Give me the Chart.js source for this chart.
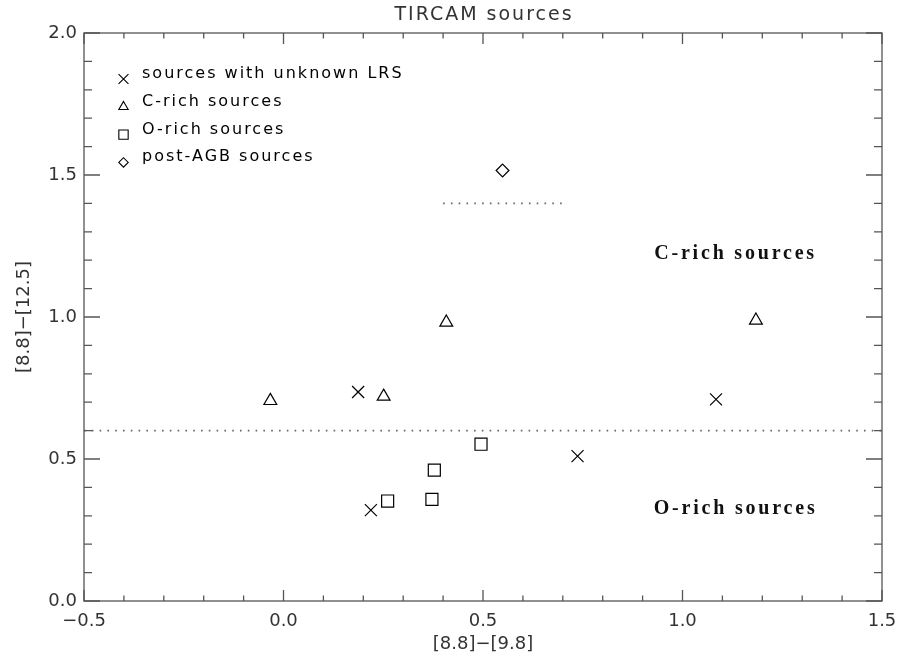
<!DOCTYPE html>
<html>
<head>
<meta charset="utf-8">
<script src="https://cdn.jsdelivr.net/npm/chart.js@4.4.0/dist/chart.umd.min.js"></script>
<style>
html, body { margin: 0; padding: 0; background: #fff; }
#wrap { width: 898px; height: 663px; }
</style>
</head>
<body>
<div id="wrap"><canvas id="tircam"></canvas></div>
<script>
// colours: [8.8]-[9.8] (x) against [8.8]-[12.5] (y)
var unknownX = [0.219, 0.187, 0.737, 1.084];
var unknownY = [0.320, 0.736, 0.510, 0.710];
var cRichX = [-0.033, 0.251, 0.408, 1.184];
var cRichY = [0.705, 0.720, 0.981, 0.988];
var oRichX = [0.261, 0.378, 0.372, 0.495];
var oRichY = [0.352, 0.461, 0.358, 0.552];
var postAgbX = [0.549];
var postAgbY = [1.516];

// dotted dividing lines
var splitX = [-0.5, 1.5];
var splitY = [0.6, 0.6];
var agbX = [0.4, 0.7];
var agbY = [1.4, 1.4];

// region names, placed in data units
var regionNames = ['C-rich sources', 'O-rich sources'];
var regionX = [1.133, 1.133];
var regionY = [1.222, 0.323];

var xMajor = [-0.5, 0.0, 0.5, 1.0, 1.5];
var yMajor = [0.0, 0.5, 1.0, 1.5, 2.0];

function zip(xs, ys) {
    return xs.map(function (v, i) { return {x: v, y: ys[i]}; });
}
function isMajor(v, list) {
    return list.some(function (m) { return Math.abs(m - v) < 1e-6; });
}
function fmt(v) {
    return (v < -1e-9 ? '\u2212' : '') + Math.abs(v).toFixed(1);
}

var ink = '#000';
var axisCol = '#555';
var textCol = '#333';
var sans = 'DejaVu Sans';

function markerSet(label, xs, ys, style, r, lr) {
    return {
        label: label,
        data: zip(xs, ys),
        pointStyle: style,
        pointRadius: r,
        legendRadius: lr,
        pointBorderColor: ink,
        pointBackgroundColor: 'rgba(0,0,0,0)',
        pointBorderWidth: 1.2,
        showLine: false
    };
}
function dottedSet(xs, ys) {
    return {
        type: 'line',
        data: zip(xs, ys),
        showLine: true,
        borderColor: '#666',
        borderWidth: 1.6,
        borderDash: [1.6, 6.2],
        pointRadius: 0,
        fill: false,
        noLegend: true
    };
}

var idlFrame = {
    id: 'idlFrame',
    beforeDraw: function (chart) {
        var ctx = chart.ctx;
        ctx.save();
        ctx.fillStyle = '#fff';
        ctx.fillRect(0, 0, chart.width, chart.height);
        ctx.restore();
    },
    afterDraw: function (chart) {
        var ctx = chart.ctx, a = chart.chartArea;
        var sx = chart.scales.x, sy = chart.scales.y;
        ctx.save();

        // box and inward ticks on all four sides
        ctx.strokeStyle = axisCol;
        ctx.lineWidth = 1.3;
        ctx.strokeRect(a.left, a.top, a.right - a.left, a.bottom - a.top);
        ctx.beginPath();
        sx.ticks.forEach(function (t) {
            var px = sx.getPixelForValue(t.value);
            var len = isMajor(t.value, xMajor) ? 11 : 5.5;
            ctx.moveTo(px, a.bottom); ctx.lineTo(px, a.bottom - len);
            ctx.moveTo(px, a.top); ctx.lineTo(px, a.top + len);
        });
        sy.ticks.forEach(function (t) {
            var py = sy.getPixelForValue(t.value);
            var len = isMajor(t.value, yMajor) ? 16 : 8;
            ctx.moveTo(a.left, py); ctx.lineTo(a.left + len, py);
            ctx.moveTo(a.right, py); ctx.lineTo(a.right - len, py);
        });
        ctx.stroke();

        // title
        ctx.fillStyle = textCol;
        ctx.font = '19px "' + sans + '"';
        ctx.letterSpacing = '2px';
        ctx.textAlign = 'center';
        ctx.textBaseline = 'middle';
        ctx.fillText('TIRCAM sources', (a.left + a.right) / 2 + 1, 15);

        // legend
        ctx.font = '16px "' + sans + '"';
        ctx.textAlign = 'left';
        ctx.textBaseline = 'alphabetic';
        var row = 0;
        chart.data.datasets.forEach(function (ds) {
            if (ds.noLegend) return;
            var base = 78 + row * 27.8;
            ctx.fillStyle = ink;
            ctx.fillText(ds.label, 142, base);
            ctx.strokeStyle = ink;
            ctx.fillStyle = 'rgba(0,0,0,0)';
            ctx.lineWidth = 1.1;
            Chart.helpers.drawPoint(ctx, {
                pointStyle: ds.pointStyle, rotation: 0,
                radius: ds.legendRadius, borderWidth: 1.1
            }, 123.5, base + 1);
            row++;
        });

        // region names
        ctx.fillStyle = '#111';
        ctx.font = 'bold 20px "Liberation Serif"';
        ctx.letterSpacing = '2.8px';
        ctx.textAlign = 'center';
        ctx.textBaseline = 'middle';
        regionNames.forEach(function (name, i) {
            ctx.fillText(name, sx.getPixelForValue(regionX[i]), sy.getPixelForValue(regionY[i]));
        });
        ctx.restore();
    }
};

new Chart(document.getElementById('tircam'), {
    type: 'scatter',
    data: {
        datasets: [
            markerSet('sources with unknown LRS', unknownX, unknownY, 'crossRot', 8.5, 7),
            markerSet('C-rich sources', cRichX, cRichY, 'triangle', 7.4, 5.4),
            markerSet('O-rich sources', oRichX, oRichY, 'rect', 8.5, 6.6),
            markerSet('post-AGB sources', postAgbX, postAgbY, 'rectRot', 6.4, 4.7),
            dottedSet(splitX, splitY),
            dottedSet(agbX, agbY)
        ]
    },
    options: {
        responsive: true,
        maintainAspectRatio: false,
        animation: false,
        layout: { padding: { top: 33, right: 16, bottom: 0, left: 0 } },
        plugins: {
            legend: { display: false },
            tooltip: { enabled: false }
        },
        scales: {
            x: {
                type: 'linear',
                min: -0.5, max: 1.5,
                afterFit: function (s) { s.height = 62; s.paddingLeft = 0; s.paddingRight = 0; },
                grid: { display: false, drawTicks: false },
                border: { display: false },
                ticks: {
                    stepSize: 0.1, autoSkip: false, maxRotation: 0, padding: 10,
                    color: textCol, font: { family: sans, size: 18 },
                    callback: function (v) { return isMajor(v, xMajor) ? fmt(v) : ''; }
                },
                title: {
                    display: true, text: '[8.8]\u2212[9.8]', color: textCol,
                    font: { family: sans, size: 18 }, padding: { top: 0, bottom: 8 }
                }
            },
            y: {
                type: 'linear',
                min: 0, max: 2,
                afterFit: function (s) { s.width = 84; s.paddingTop = 0; s.paddingBottom = 0; },
                grid: { display: false, drawTicks: false },
                border: { display: false },
                ticks: {
                    stepSize: 0.1, autoSkip: false, padding: 7,
                    color: textCol, font: { family: sans, size: 18 },
                    callback: function (v) { return isMajor(v, yMajor) ? fmt(v) : ''; }
                },
                title: {
                    display: true, text: '[8.8]\u2212[12.5]', color: textCol,
                    font: { family: sans, size: 18 }, padding: { top: 14, bottom: 0 }
                }
            }
        }
    },
    plugins: [idlFrame]
});
</script>
</body>
</html>
